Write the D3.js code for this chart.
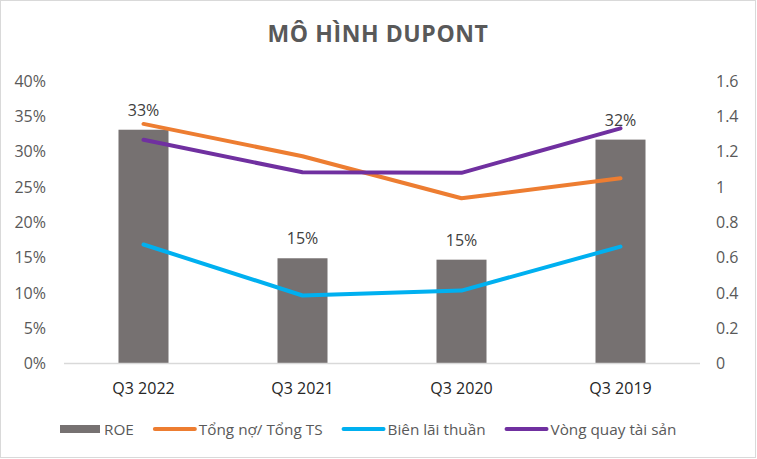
<!DOCTYPE html>
<html>
<head>
<meta charset="utf-8">
<script src="https://cdn.jsdelivr.net/npm/d3@7"></script>
<style>
  html, body { margin: 0; padding: 0; background: #fff; }
  svg { display: block; }
  text { font-family: "Open Sans", "Liberation Sans", sans-serif; }
</style>
</head>
<body>
<svg id="chart" width="757" height="459"></svg>
<script>
// ---- data ----
const categories = ["Q3 2022", "Q3 2021", "Q3 2020", "Q3 2019"];
const roe = [0.331, 0.149, 0.147, 0.317];
const debtToAssets = [1.357, 1.174, 0.936, 1.049];
const netMargin = [0.674, 0.385, 0.413, 0.662];
const assetTurnover = [1.267, 1.083, 1.080, 1.332];
const leftTicks = [0, 0.05, 0.10, 0.15, 0.20, 0.25, 0.30, 0.35, 0.40];
const rightTicks = [0, 0.2, 0.4, 0.6, 0.8, 1, 1.2, 1.4, 1.6];
const title = "MÔ HÌNH DUPONT";
const seriesNames = ["ROE", "Tổng nợ/ Tổng TS", "Biên lãi thuần", "Vòng quay tài sản"];

// ---- layout ----
const W = 757, H = 459;
const plot = { left: 64, right: 700, top: 81, bottom: 363.5 };
const colors = { bar: "#767171", orange: "#ED7D31", blue: "#00B0F0", purple: "#7030A0" };
const axisText = "#595959";

const svg = d3.select("#chart");
svg.append("rect").attr("x", 0.5).attr("y", 0.5).attr("width", W - 2).attr("height", H - 2)
  .attr("fill", "#fff").attr("stroke", "#d9d9d9").attr("stroke-width", 1);

const p = 0.6855;
const x = d3.scaleBand().domain(categories).range([plot.left, plot.right])
  .paddingInner(p).paddingOuter(p / 2);
const yL = d3.scaleLinear().domain([0, 0.4]).range([plot.bottom, plot.top]);
const yR = d3.scaleLinear().domain([0, 1.6]).range([plot.bottom, plot.top]);
const cx = d => x(d) + x.bandwidth() / 2;

// title
svg.append("text").attr("x", 378).attr("y", 42).attr("text-anchor", "middle")
  .attr("font-size", 23).attr("font-weight", "bold").attr("letter-spacing", 0.6)
  .attr("fill", axisText).text(title);

// left axis
const axL = d3.axisLeft(yL).tickValues(leftTicks).tickSize(0).tickPadding(0)
  .tickFormat(d => Math.round(d * 100) + "%");
const gL = svg.append("g").attr("transform", `translate(46,0)`).call(axL);
gL.select(".domain").remove();
gL.selectAll("text").attr("font-size", 16).attr("fill", axisText)
  .attr("font-family", "Open Sans, Liberation Sans, sans-serif");

// right axis
const axR = d3.axisRight(yR).tickValues(rightTicks).tickSize(0).tickPadding(0)
  .tickFormat(d => d === 0 || d === 1 ? String(d) : d3.format(".1f")(d));
const gR = svg.append("g").attr("transform", `translate(716,0)`).call(axR);
gR.select(".domain").remove();
gR.selectAll("text").attr("font-size", 16).attr("fill", axisText)
  .attr("font-family", "Open Sans, Liberation Sans, sans-serif");

// bars
svg.append("g").selectAll("rect").data(categories).join("rect")
  .attr("x", d => x(d)).attr("width", x.bandwidth())
  .attr("y", (d, i) => yL(roe[i])).attr("height", (d, i) => yL(0) - yL(roe[i]))
  .attr("fill", colors.bar);

// category axis line
svg.append("line").attr("x1", plot.left).attr("x2", plot.right)
  .attr("y1", plot.bottom).attr("y2", plot.bottom)
  .attr("stroke", "#d9d9d9").attr("stroke-width", 1.5);

// category labels
svg.append("g").selectAll("text").data(categories).join("text")
  .attr("x", d => cx(d)).attr("y", 394).attr("text-anchor", "middle")
  .attr("font-size", 16).attr("fill", "#262626").text(d => d);

// lines
const lineGen = arr => d3.line().x((d, i) => cx(categories[i])).y(d => yR(d))(arr);
[[debtToAssets, colors.orange], [netMargin, colors.blue], [assetTurnover, colors.purple]]
  .forEach(([arr, c]) => {
    svg.append("path").attr("d", lineGen(arr)).attr("fill", "none")
      .attr("stroke", c).attr("stroke-width", 4)
      .attr("stroke-linecap", "round").attr("stroke-linejoin", "round");
  });

// data labels
svg.append("g").selectAll("text").data(categories).join("text")
  .attr("x", d => cx(d)).attr("y", (d, i) => yL(roe[i]) - 14)
  .attr("text-anchor", "middle").attr("font-size", 16).attr("fill", "#404040")
  .text((d, i) => d3.format(".0%")(roe[i]));

// legend
const lg = svg.append("g");
const legendY = 429;
let lx = 60;
const items = [
  { name: seriesNames[0], type: "rect", color: colors.bar },
  { name: seriesNames[1], type: "line", color: colors.orange },
  { name: seriesNames[2], type: "line", color: colors.blue },
  { name: seriesNames[3], type: "line", color: colors.purple }
];
items.forEach((it, i) => {
  if (it.type === "rect") {
    lg.append("rect").attr("x", lx).attr("y", legendY - 4).attr("width", 40).attr("height", 8)
      .attr("fill", it.color);
    lx += 44;
  } else {
    lg.append("line").attr("x1", lx + 2).attr("x2", lx + 42).attr("y1", legendY).attr("y2", legendY)
      .attr("stroke", it.color).attr("stroke-width", 4).attr("stroke-linecap", "round");
    lx += 46;
  }
  const t = lg.append("text").attr("x", lx).attr("y", legendY + 5.5)
    .attr("font-size", 15.3).attr("fill", axisText).text(it.name);
  lx += t.node().getComputedTextLength() + 19;
});
</script>
</body>
</html>
